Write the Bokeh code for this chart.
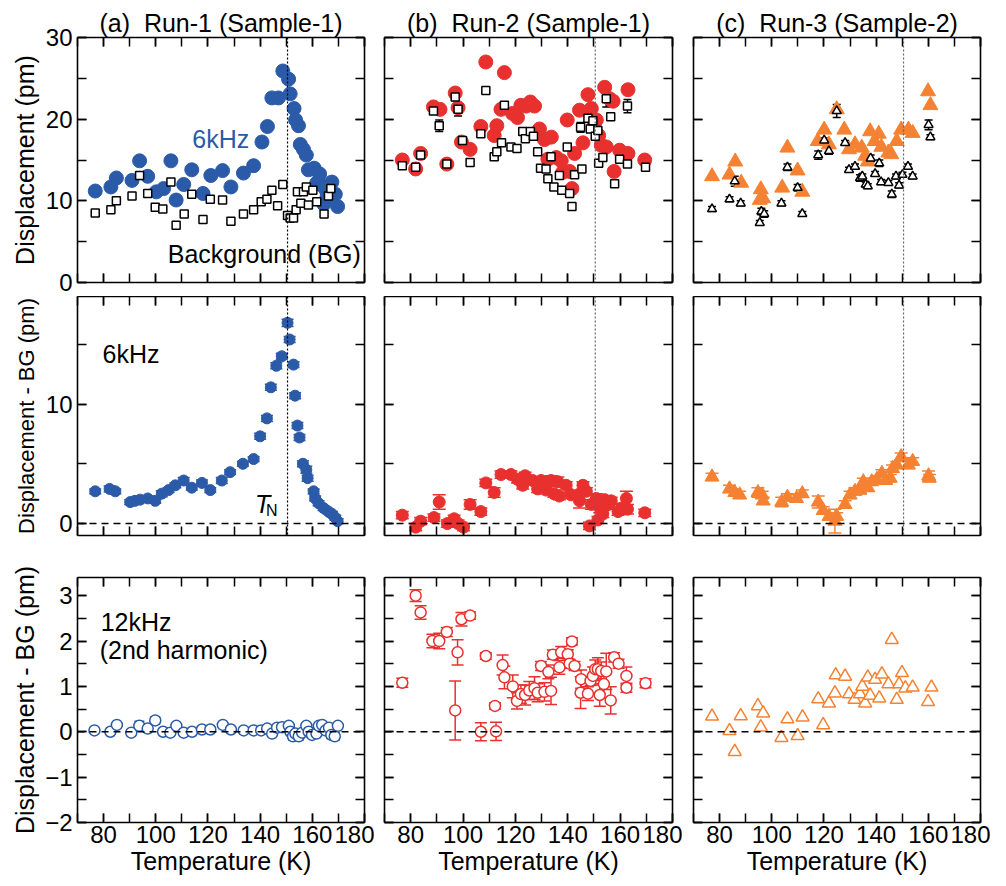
from bokeh.plotting import figure
from bokeh.models import (LinearAxis, SingleIntervalTicker, Range1d, Span, Label, Title,
                          Whisker, TeeHead, ColumnDataSource, CustomLabelingPolicy)
from bokeh.layouts import gridplot
from bokeh.embed import file_html
from bokeh.resources import INLINE

FONT = "Liberation Sans"
BLUE = "#2B5BA8"
RED = "#E8312F"
ORANGE = "#F58233"

# ---------------- data ----------------
TN = 150.5

# (a) Run-1 top: 6kHz and background
a_T6 = [76.8, 82.8, 84.9, 90.9, 93.8, 96.9, 100.2, 103.0, 105.8, 107.8, 110.7, 113.8, 118.1, 121.1, 125.6,
        128.8, 133.6, 137.5, 140.7, 142.8, 144.5, 147.0, 148.7, 150.9, 151.5, 153.0, 153.6, 154.7, 155.4,
        156.6, 157.7, 158.5, 160.7, 161.7, 162.8, 163.7, 164.4, 165.3, 165.6, 166.6, 167.5, 168.8, 169.7]
a_V6 = [11.2, 11.7, 12.8, 12.5, 14.9, 13.0, 11.1, 11.5, 14.9, 10.1, 12.0, 13.8, 10.9, 13.1, 13.7,
        11.7, 13.4, 14.3, 17.2, 19.1, 22.6, 22.6, 25.9, 24.9, 23.1, 21.3, 19.9, 19.2, 16.9,
        16.3, 15.6, 13.8, 14.0, 12.2, 13.3, 11.9, 9.6, 11.3, 10.4, 10.9, 12.3, 10.8, 9.3]
a_Tb = [76.8, 82.8, 84.9, 90.9, 93.8, 96.9, 99.8, 102.7, 105.8, 107.8, 110.9, 113.8, 118.1, 120.9, 125.6,
        128.8, 133.6, 137.5, 140.4, 142.6, 144.5, 146.7, 148.7, 150.5, 151.5, 152.8, 153.8, 154.3, 155.6,
        156.6, 157.7, 158.5, 160.2, 161.7, 164.5, 166.2, 167.1]
a_Vb = [8.5, 8.9, 10.0, 10.6, 13.1, 10.9, 9.2, 9.0, 12.3, 7.0, 8.4, 10.8, 7.7, 10.2, 10.1,
        7.5, 8.4, 8.9, 9.9, 10.2, 11.3, 9.4, 12.0, 8.2, 7.9, 7.9, 8.9, 11.1, 9.7,
        11.1, 11.7, 9.5, 11.3, 9.9, 8.4, 10.6, 11.5]
# (a) middle: 6kHz - BG
am_T = [76.8, 82.3, 84.5, 90.2, 92.0, 94.0, 96.9, 99.8, 102.3, 104.9, 107.5, 110.7, 113.8, 117.7, 120.9,
        125.3, 128.5, 133.4, 137.5, 140.0, 142.6, 144.1, 146.2, 148.3, 150.5, 151.3, 152.8, 153.4, 154.3,
        155.1, 156.4, 157.7, 158.2, 160.5, 161.1, 162.4, 164.3, 166.2, 167.5, 168.8, 169.7]
am_V = [2.7, 2.9, 2.7, 1.8, 1.9, 2.0, 2.1, 1.9, 2.5, 2.8, 3.2, 3.6, 3.0, 3.4, 2.8,
        3.6, 4.3, 5.0, 5.4, 7.3, 8.8, 11.4, 13.2, 14.0, 16.8, 15.4, 13.3, 10.7, 8.2,
        7.2, 5.0, 4.5, 3.8, 2.7, 2.1, 1.7, 1.3, 1.0, 0.8, 0.5, 0.2]
am_E = [0.2, 0.25, 0.2, 0.2, 0.2, 0.2, 0.2, 0.2, 0.25, 0.2, 0.2, 0.25, 0.2, 0.25, 0.2,
        0.25, 0.2, 0.2, 0.2, 0.25, 0.25, 0.25, 0.25, 0.25, 0.3, 0.25, 0.25, 0.25, 0.25,
        0.25, 0.25, 0.3, 0.25, 0.2, 0.2, 0.2, 0.2, 0.2, 0.2, 0.2, 0.2]
# (a) bottom: 12kHz - BG
ab_T = [76.5, 82.6, 85.1, 90.6, 93.7, 96.9, 99.8, 102.8, 105.6, 107.9, 110.7, 113.9, 117.7, 120.9, 125.7,
        128.8, 133.7, 137.5, 140.4, 142.7, 144.6, 146.5, 148.4, 151.0, 151.6, 152.6, 153.5, 154.8, 156.1,
        157.7, 158.6, 159.9, 161.6, 162.5, 163.8, 165.1, 166.4, 167.3, 168.6, 169.8]
ab_V = [0.03, 0.0, 0.15, -0.02, 0.13, 0.07, 0.25, 0.0, -0.02, 0.13, -0.02, 0.0, 0.05, 0.05, 0.15,
        0.05, 0.03, 0.03, 0.03, 0.07, -0.04, 0.09, 0.1, 0.13, 0.0, -0.1, -0.04, -0.1, -0.02,
        0.13, 0.0, -0.07, -0.04, 0.13, 0.15, 0.03, 0.09, -0.07, -0.1, 0.13]
ab_E = [0.04, 0.05, 0.05, 0.06, 0.1, 0.05, 0.08, 0.05, 0.05, 0.05, 0.05, 0.05, 0.05, 0.05, 0.05,
        0.05, 0.05, 0.05, 0.05, 0.05, 0.05, 0.05, 0.05, 0.06, 0.05, 0.08, 0.06, 0.08, 0.06,
        0.06, 0.05, 0.06, 0.06, 0.06, 0.06, 0.05, 0.06, 0.08, 0.08, 0.06]

# (b) Run-2 top
b_T6 = [76.8, 81.9, 83.8, 88.7, 91.2, 93.8, 97.0, 98.1, 99.4, 102.7, 106.8, 108.7, 111.9, 112.9, 114.5,
        115.8, 118.9, 120.8, 122.1, 124.1, 125.7, 127.3, 129.2, 131.1, 133.7, 132.4, 135.6, 137.5, 138.1,
        140.7, 141.6, 139.8, 142.6, 144.5, 145.8, 147.7, 149.0, 150.0, 150.9, 151.8, 152.8, 154.1, 154.7,
        156.0, 157.3, 157.7, 159.8, 163.0, 163.0, 169.4]
b_V6 = [15.0, 13.9, 15.8, 21.5, 21.2, 14.5, 23.2, 21.4, 17.2, 16.3, 19.1, 27.0, 18.0, 19.2, 21.2,
        25.7, 20.7, 20.2, 21.7, 21.6, 22.1, 21.6, 18.8, 17.5, 17.8, 15.1, 15.3, 14.9, 13.5,
        13.6, 11.5, 19.9, 15.8, 21.1, 17.1, 23.0, 21.3, 19.2, 19.9, 18.0, 16.8, 23.9, 16.6,
        22.5, 22.2, 13.6, 16.2, 23.6, 15.8, 15.0]
b_Tb = [76.8, 81.9, 83.8, 88.7, 90.9, 93.8, 97.0, 98.1, 99.8, 102.7, 106.8, 108.7, 111.9, 112.9, 114.7,
        115.8, 118.3, 120.6, 122.8, 123.8, 125.7, 126.9, 128.5, 129.6, 131.7, 132.4, 133.6, 134.7, 136.8,
        137.7, 139.8, 140.7, 141.6, 142.6, 145.4, 144.9, 147.7, 148.6, 149.6, 150.5, 151.5, 151.8, 153.4,
        154.7, 156.4, 157.9, 159.8, 162.8, 162.8, 169.7]
b_Vb = [14.3, 14.1, 15.6, 21.0, 19.2, 14.5, 22.7, 21.2, 17.4, 14.7, 18.2, 23.5, 15.4, 16.0, 17.1,
        21.7, 16.6, 16.4, 18.5, 17.6, 18.5, 17.9, 16.0, 14.0, 13.9, 12.7, 15.4, 11.7, 13.1,
        11.3, 16.6, 10.9, 9.3, 13.2, 13.9, 19.0, 20.1, 18.8, 19.8, 17.9, 18.6, 14.6, 15.3,
        22.5, 20.3, 12.1, 15.1, 14.5, 21.6, 14.1]
b_Eb = [0.3, 0.3, 0.4, 0.4, 0.7, 0.3, 0.4, 0.8, 0.4, 0.3, 0.4, 0.4, 0.3, 0.4, 0.4,
        0.4, 0.3, 0.3, 0.4, 0.4, 0.4, 0.4, 0.3, 0.3, 0.3, 0.3, 0.4, 0.3, 0.3,
        0.3, 0.3, 0.3, 0.3, 0.3, 0.4, 0.6, 0.4, 0.4, 0.4, 0.4, 0.5, 0.4, 0.4,
        1.0, 0.4, 0.3, 0.4, 0.4, 0.8, 0.3]
# (b) middle
bm_T = [76.8, 81.9, 83.8, 88.9, 90.9, 94.0, 96.6, 98.1, 100.2, 102.7, 106.8, 108.7, 111.9, 114.5, 118.3,
        120.8, 122.8, 123.7, 126.6, 128.5, 129.8, 131.7, 133.6, 134.7, 136.2, 136.8, 139.4, 141.3, 143.9,
        144.5, 145.8, 147.1, 148.3, 149.0, 150.9, 151.5, 152.2, 153.4, 154.1, 155.6, 156.6, 159.2, 160.7,
        162.4, 162.8, 169.4]
bm_V = [0.7, -0.3, 0.2, 0.5, 1.8, 0.0, 0.4, 0.0, -0.3, 1.6, 1.0, 3.4, 2.6, 4.1, 4.1,
        3.7, 3.2, 4.0, 3.6, 2.9, 3.6, 2.8, 3.6, 2.5, 3.5, 2.3, 3.2, 2.4, 2.4,
        1.9, 3.2, 2.7, -0.2, 1.6, 2.1, 0.3, 1.3, 0.8, 2.0, 1.6, 1.9, 1.0, 1.3,
        2.1, 1.2, 0.9]
bm_E = [0.3, 0.3, 0.3, 0.3, 0.6, 0.3, 0.3, 0.3, 0.3, 0.4, 0.3, 0.3, 0.4, 0.3, 0.3,
        0.3, 0.3, 0.3, 0.3, 0.3, 0.3, 0.3, 0.4, 0.3, 0.4, 0.3, 0.3, 0.3, 0.3,
        0.6, 0.3, 0.3, 0.3, 0.4, 0.4, 0.3, 0.4, 0.3, 0.3, 0.4, 0.3, 0.3, 0.4,
        0.6, 0.4, 0.3]
# (b) bottom
bb_T = [76.8, 81.9, 83.8, 88.3, 90.9, 93.8, 97.9, 97.0, 99.4, 102.7, 106.8, 108.7, 112.2, 112.6, 115.1,
        115.8, 119.0, 120.6, 122.1, 123.7, 125.3, 127.3, 128.5, 129.8, 131.1, 132.6, 133.6, 134.3, 136.8,
        137.5, 140.0, 141.6, 140.7, 142.6, 145.1, 144.9, 147.7, 148.7, 149.6, 150.5, 151.5, 152.2, 152.8,
        153.8, 154.7, 156.4, 157.7, 159.4, 162.4, 162.4, 169.7]
bb_V = [1.08, 3.0, 2.63, 2.0, 2.0, 2.2, 1.75, 0.47, 2.48, 2.56, 0.0, 1.67, 0.57, 0.01, 1.47,
        1.2, 1.0, 0.68, 0.83, 0.81, 0.91, 0.96, 0.86, 1.45, 0.88, 1.32, 0.9, 1.7, 1.42,
        1.75, 1.71, 1.99, 1.5, 1.45, 1.16, 0.86, 0.84, 1.12, 1.23, 1.38, 1.38, 0.81, 1.34,
        1.05, 1.33, 0.69, 1.64, 1.5, 1.23, 0.97, 1.07]
bb_E = [0.1, 0.13, 0.15, 0.15, 0.17, 0.1, 0.28, 0.65, 0.15, 0.08, 0.2, 0.07, 0.07, 0.2, 0.22,
        0.25, 0.25, 0.18, 0.2, 0.22, 0.2, 0.25, 0.2, 0.1, 0.2, 0.15, 0.3, 0.1, 0.15,
        0.13, 0.1, 0.08, 0.1, 0.1, 0.2, 0.35, 0.15, 0.1, 0.2, 0.2, 0.25, 0.25, 0.2,
        0.3, 0.4, 0.3, 0.1, 0.1, 0.2, 0.1, 0.1]

# (c) Run-3 top
c_T6 = [77.1, 83.8, 86.0, 88.3, 95.8, 95.4, 96.7, 104.0, 106.0, 109.9, 111.7, 117.6, 120.1, 121.9, 124.9,
        127.8, 129.6, 131.9, 134.5, 135.8, 136.8, 137.7, 139.4, 141.0, 142.0, 144.7, 145.8, 147.9, 149.6,
        152.4, 154.0, 159.9, 160.8]
c_V6 = [13.0, 13.2, 14.8, 12.2, 11.4, 10.1, 10.3, 11.6, 16.5, 13.7, 11.1, 17.3, 18.7, 16.9, 21.2,
        18.7, 16.3, 16.9, 16.5, 15.5, 14.8, 18.5, 17.3, 18.2, 16.6, 15.9, 15.7, 17.3, 18.7,
        18.7, 18.3, 23.4, 21.7]
c_Tb = [77.1, 83.8, 85.8, 88.1, 95.4, 96.0, 97.1, 103.7, 106.0, 109.9, 111.7, 117.8, 120.1, 121.9, 124.9,
        128.1, 129.6, 131.9, 133.8, 134.7, 136.0, 136.8, 137.9, 139.6, 141.2, 141.9, 144.7, 146.0, 147.6,
        148.8, 150.1, 152.2, 154.0, 160.1, 160.8]
c_Vb = [9.0, 10.2, 12.4, 9.7, 7.3, 8.7, 8.4, 9.7, 14.1, 11.6, 8.4, 15.6, 17.4, 16.1, 21.0,
        17.1, 13.8, 14.2, 12.8, 13.0, 12.0, 11.8, 15.2, 13.3, 14.6, 12.3, 12.2, 10.8, 13.0,
        11.9, 13.2, 14.2, 13.0, 19.3, 17.8]
c_Eb = [0.3, 0.3, 0.6, 0.3, 0.3, 0.4, 0.4, 0.3, 0.4, 0.4, 0.3, 0.5, 0.3, 0.4, 0.8,
        0.3, 0.3, 0.3, 0.4, 0.3, 0.3, 0.3, 0.4, 0.3, 0.4, 0.3, 0.3, 0.4, 0.3,
        0.3, 0.3, 0.3, 0.3, 0.6, 0.3]
# (c) middle
cm_T = [77.1, 83.8, 85.8, 87.7, 94.7, 96.3, 96.7, 103.8, 106.0, 109.5, 111.7, 117.8, 119.7, 121.9, 124.2,
        124.9, 128.1, 130.0, 131.9, 133.8, 135.1, 136.8, 138.3, 140.3, 142.2, 143.7, 145.4, 146.3, 147.9,
        149.6, 152.4, 154.0, 160.1, 160.4]
cm_V = [3.9, 2.9, 2.6, 2.4, 2.6, 2.4, 1.9, 1.8, 2.2, 2.1, 2.5, 1.8, 1.1, 0.6, 0.2,
        0.6, 1.6, 2.4, 2.7, 2.8, 3.5, 3.0, 3.5, 3.7, 4.2, 3.6, 3.8, 4.6, 4.9,
        5.6, 4.9, 5.2, 4.0, 3.8]
cm_E = [0.3, 0.3, 0.3, 0.3, 0.4, 0.3, 0.3, 0.4, 0.3, 0.3, 0.3, 0.5, 0.3, 0.3, 1.0,
        0.3, 0.3, 0.3, 0.3, 0.3, 0.3, 0.3, 0.3, 0.3, 0.3, 0.3, 0.3, 0.3, 0.3,
        0.3, 0.3, 0.3, 0.4, 0.3]
# (c) bottom
cb_T = [77.1, 83.8, 85.8, 88.1, 94.7, 96.7, 95.8, 103.7, 106.0, 109.9, 111.8, 117.8, 119.7, 121.9, 124.2,
        124.5, 128.1, 129.6, 131.7, 133.8, 134.7, 135.8, 136.8, 137.7, 139.6, 141.2, 142.2, 144.7, 146.0,
        147.9, 148.8, 149.9, 151.2, 154.0, 159.9, 161.2]
cb_V = [0.34, 0.02, -0.44, 0.35, 0.57, 0.41, 0.1, -0.13, 0.28, -0.09, 0.32, 0.72, 0.15, 0.63, 0.85,
        1.25, 1.22, 0.83, 0.71, 0.83, 1.0, 0.63, 1.2, 0.8, 1.15, 0.74, 1.27, 1.05, 2.03,
        0.71, 1.05, 1.3, 0.96, 0.98, 0.66, 0.98]

titles = ["(a) \u00a0Run-1 (Sample-1)", "(b) \u00a0Run-2 (Sample-1)", "(c) \u00a0Run-3 (Sample-2)"]
ylabels = ["Displacement (pm)", "Displacement - BG (pm)", "Displacement - BG (pm)"]
xlabel = "Temperature (K)"

# ---------------- layout ----------------
FRAME_W = [287, 288, 287]
FRAME_H = [245, 239, 245]
BORDER_L = [77, 10, 11]
BORDER_T = [37, 0, 22]
BORDER_B = [14, 20, 60]
YR = [(0, 30), (-1, 19), (-2, 3.4)]
YINT = [10, 10, 1]
YLAB_SIZE = ["25px", "22px", "25px"]


def make_panel(col, row):
    p = figure(frame_width=FRAME_W[col], frame_height=FRAME_H[row],
               x_range=Range1d(70, 180), y_range=Range1d(*YR[row]),
               min_border_left=BORDER_L[col], min_border_right=10,
               min_border_top=BORDER_T[row], min_border_bottom=BORDER_B[row],
               x_axis_location=None, y_axis_location=None,
               toolbar_location=None, output_backend="svg", tools="")
    for g in p.grid:
        g.visible = False
    p.outline_line_color = None
    p.background_fill_color = "white"
    p.border_fill_color = "white"
    if row == 0:
        p.title.text = titles[col]
        p.title.align = "center"
        p.title.text_font = FONT
        p.title.text_font_size = "25px"
        p.title.text_font_style = "normal"
        p.title.text_color = "black"
        p.title.standoff = 2
        p.title.offset = 0
    for side in ["left", "right", "above", "below"]:
        if side in ("left", "right"):
            ticker = SingleIntervalTicker(interval=YINT[row], num_minor_ticks=2)
        else:
            ticker = SingleIntervalTicker(interval=20, num_minor_ticks=2)
        ax = LinearAxis(ticker=ticker)
        ax.axis_line_color = "black"
        ax.axis_line_width = 1.6
        ax.major_tick_in = 9
        ax.major_tick_out = 0
        ax.minor_tick_in = 9
        ax.minor_tick_out = 0
        ax.major_tick_line_width = 1.5
        ax.minor_tick_line_width = 1.5
        ax.major_tick_line_color = "black"
        ax.minor_tick_line_color = "black"
        show = (side == "left" and col == 0) or (side == "below" and row == 2)
        if show:
            ax.major_label_text_font = FONT
            ax.major_label_text_font_size = "24px"
            ax.major_label_text_color = "black"
            ax.major_label_standoff = 5 if side == "left" else 3
            if side == "below":
                ax.axis_label = xlabel
                ax.axis_label_text_font = FONT
                ax.axis_label_text_font_size = "25px"
                ax.axis_label_text_font_style = "normal"
                ax.axis_label_text_color = "black"
                ax.axis_label_standoff = 1
        else:
            ax.major_label_text_font_size = "0px"
            ax.major_label_standoff = 0
            ax.major_label_policy = CustomLabelingPolicy(code="return []")
        p.add_layout(ax, side)
    if col == 0:
        yt = Title(text=ylabels[row], align="center", standoff=8,
                   text_font=FONT, text_font_size=YLAB_SIZE[row], text_font_style="normal",
                   text_color="black")
        p.add_layout(yt, "left")
    if row >= 1:
        p.add_layout(Span(location=0, dimension="width", line_color="black",
                          line_width=1.5, line_dash="7 5"))
    if row <= 1:
        p.add_layout(Span(location=TN, dimension="height",
                          line_color="black" if col == 0 else "#666666",
                          line_width=1.2, line_dash="2 2"))
    return p


def errbars(p, xs, ys, es, color, head=9):
    src = ColumnDataSource(dict(x=xs, lo=[y - e for y, e in zip(ys, es)],
                                hi=[y + e for y, e in zip(ys, es)]))
    w = Whisker(base="x", upper="hi", lower="lo", source=src, dimension="height",
                line_color=color, line_width=1.5,
                upper_head=TeeHead(size=head, line_color=color, line_width=1.5),
                lower_head=TeeHead(size=head, line_color=color, line_width=1.5))
    p.add_layout(w)


figs = [[make_panel(c, r) for c in range(3)] for r in range(3)]

# ---- column a ----
p = figs[0][0]
p.scatter(a_T6, a_V6, marker="circle", size=14, fill_color=BLUE, line_color=BLUE)
p.scatter(a_Tb, a_Vb, marker="square", size=8, fill_color="white", line_color="black", line_width=1.5)
p.add_layout(Label(x=114.0, y=17.6, text="6kHz", text_font=FONT, text_font_size="25px",
                   text_color=BLUE, text_baseline="middle", text_align="left"))
p.add_layout(Label(x=178.6, y=3.5, text="Background (BG)", text_font=FONT, text_font_size="25px",
                   text_color="black", text_baseline="middle", text_align="right"))

p = figs[1][0]
errbars(p, am_T, am_V, am_E, BLUE, head=12)
p.scatter(am_T, am_V, marker="circle", size=11, fill_color=BLUE, line_color=BLUE)
p.add_layout(Label(x=79.6, y=14.2, text="6kHz", text_font=FONT, text_font_size="25px",
                   text_color="black", text_baseline="middle", text_align="left"))
p.add_layout(Label(x=138.0, y=1.6, text="T", text_font=FONT, text_font_size="25px",
                   text_font_style="italic", text_color="black", text_baseline="middle", text_align="left"))
p.add_layout(Label(x=142.2, y=1.1, text="N", text_font=FONT, text_font_size="16px",
                   text_color="black", text_baseline="middle", text_align="left"))

p = figs[2][0]
errbars(p, ab_T, ab_V, ab_E, BLUE, head=10)
p.scatter(ab_T, ab_V, marker="circle", size=11, fill_color="white", line_color=BLUE, line_width=1.5)
p.add_layout(Label(x=78.9, y=2.41, text="12kHz", text_font=FONT, text_font_size="25px",
                   text_color="black", text_baseline="middle", text_align="left"))
p.add_layout(Label(x=78.5, y=1.81, text="(2nd harmonic)", text_font=FONT, text_font_size="25px",
                   text_color="black", text_baseline="middle", text_align="left"))

# ---- column b ----
p = figs[0][1]
p.scatter(b_T6, b_V6, marker="circle", size=14, fill_color=RED, line_color=RED)
errbars(p, b_Tb, b_Vb, b_Eb, "black", head=8)
p.scatter(b_Tb, b_Vb, marker="square", size=8, fill_color="white", line_color="black", line_width=1.5)

p = figs[1][1]
errbars(p, bm_T, bm_V, bm_E, RED, head=13)
p.scatter(bm_T, bm_V, marker="circle", size=12, fill_color=RED, line_color=RED)

p = figs[2][1]
errbars(p, bb_T, bb_V, bb_E, RED, head=12)
p.scatter(bb_T, bb_V, marker="circle", size=11, fill_color="white", line_color=RED, line_width=1.5)

# ---- column c ----
p = figs[0][2]
p.scatter(c_T6, c_V6, marker="triangle", size=15, fill_color=ORANGE, line_color=ORANGE)
errbars(p, c_Tb, c_Vb, c_Eb, "black", head=8)
p.scatter(c_Tb, c_Vb, marker="triangle", size=9, fill_color="white", line_color="black", line_width=1.5)

p = figs[1][2]
errbars(p, cm_T, cm_V, cm_E, ORANGE, head=13)
p.scatter(cm_T, cm_V, marker="triangle", size=14, fill_color=ORANGE, line_color=ORANGE)

p = figs[2][2]
p.scatter(cb_T, cb_V, marker="triangle", size=13, fill_color="white", line_color=ORANGE, line_width=1.5)

grid = gridplot(figs, toolbar_location=None)
open("out.html", "w").write(file_html(grid, INLINE))
